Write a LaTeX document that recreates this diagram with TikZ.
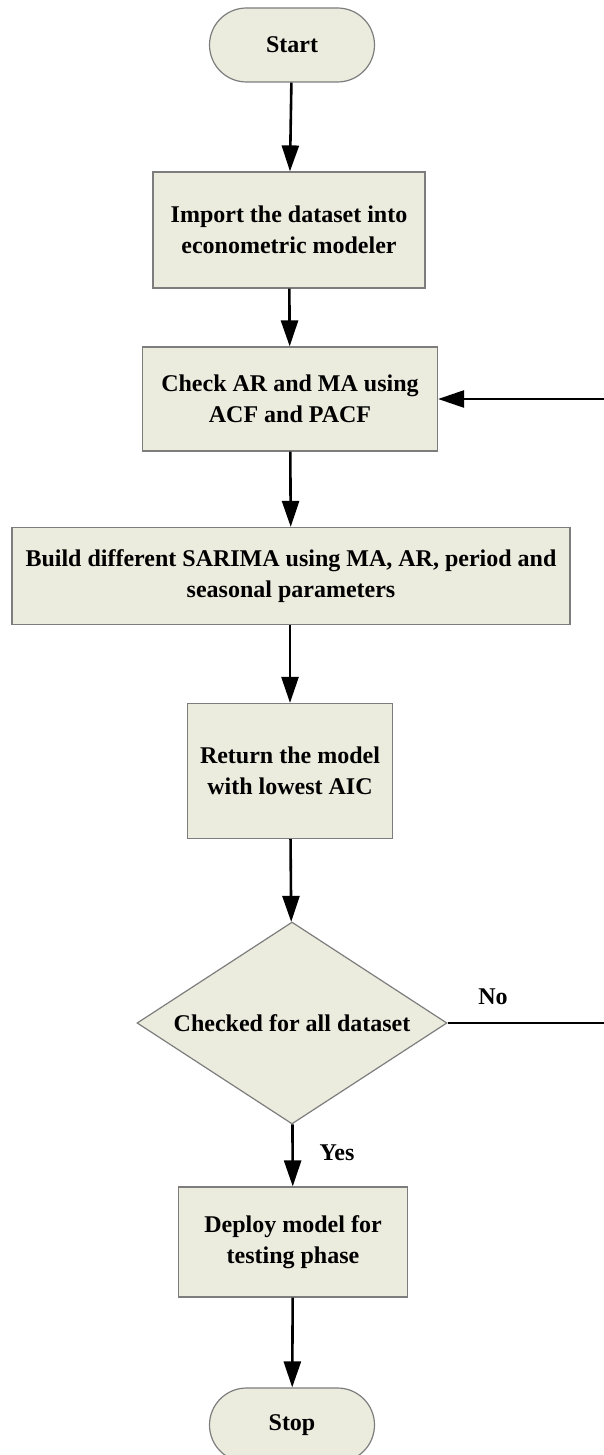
\documentclass[tikz,border=0pt]{standalone}
\usepackage{fontspec}
\setmainfont{Liberation Serif}
\usetikzlibrary{shapes.geometric,arrows.meta}
\definecolor{boxfill}{RGB}{235,236,222}
\definecolor{boxline}{RGB}{125,125,125}
\tikzset{
  txt/.style={font=\fontsize{24}{31}\selectfont\bfseries},
  box/.style={txt, draw=boxline, fill=boxfill, line width=1.2pt, align=center, inner sep=0pt},
  term/.style={box, rounded corners=37pt, minimum width=165pt, minimum height=74pt},
  decide/.style={box, diamond, aspect=1.53, minimum width=310pt, minimum height=202pt},
  flow/.style={-{Triangle[width=17pt,length=26pt]}, line width=2.6pt},
  loopline/.style={line width=2.6pt}
}

\begin{document}
\begin{tikzpicture}[x=1pt,y=-1pt]
\useasboundingbox (0,0) rectangle (604,1455);
\node[term] (start) at (292,45) {Start};
\node[box, minimum width=272pt, minimum height=116pt] (import) at (289,230) {Import the dataset into\\econometric modeler};
\node[box, minimum width=295pt, minimum height=104pt] (check) at (290,399) {Check AR and MA using\\ACF and PACF};
\node[box, minimum width=558pt, minimum height=97pt] (build) at (291,576) {Build different SARIMA using MA, AR, period and\\seasonal parameters};
\node[box, minimum width=205pt, minimum height=135pt] (ret) at (290,771) {Return the model\\with lowest AIC};
\node[decide] (dec) at (292,1023) {Checked for all dataset};
\node[box, minimum width=229pt, minimum height=110pt] (deploy) at (293,1242) {Deploy model for\\testing phase};
\node[term] (stop) at (292,1425) {Stop};
\node[txt] (lblno) at (493,997) {No};
\node[txt] (lblyes) at (337,1153) {Yes};
\coordinate (back) at (660,1023);
\draw[flow] (start) -- (import);
\draw[flow] (import) -- (check);
\draw[flow] (check) -- (build);
\draw[flow] (build.south -| ret.north) -- (ret);
\draw[flow] (ret) -- (dec);
\draw[flow] (dec) -- (deploy);
\draw[flow] (deploy) -- (stop);
\draw[flow] (dec.east) -- (back) |- (check.east);
\end{tikzpicture}
\end{document}
